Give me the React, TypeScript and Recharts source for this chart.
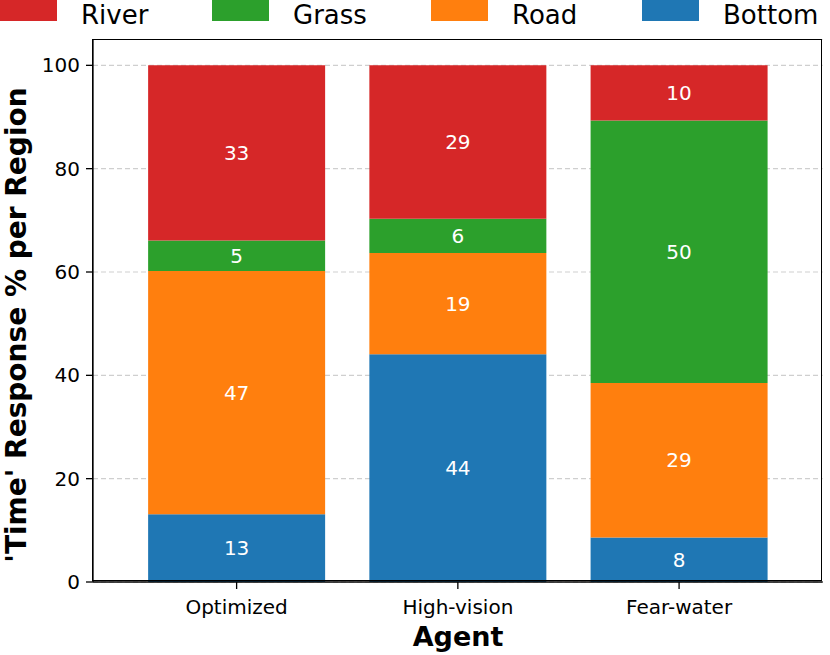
import React from "react";
import {
  BarChart, Bar, XAxis, YAxis, CartesianGrid, LabelList, Label
} from "recharts";

// time share (%) per region
const agents = ["Optimized", "High-vision", "Fear-water"];
const bottomPct = [13.1, 44.1, 8.6];
const roadPct = [47.1, 19.6, 29.9];
const grassPct = [5.9, 6.6, 50.8];
const riverPct = [33.9, 29.7, 10.7];
const yTicks = [0, 20, 40, 60, 80, 100];

const FONT = "DejaVu Sans";

const series = [
  { key: "bottom", name: "Bottom", color: "#1f77b4" },
  { key: "road", name: "Road", color: "#ff7f0e" },
  { key: "grass", name: "Grass", color: "#2ca02c" },
  { key: "river", name: "River", color: "#d62728" },
];
const legendOrder = ["river", "grass", "road", "bottom"];
const legendX = [0, 212, 431, 642];

const rows = agents.map((agent, i) => ({
  agent,
  bottom: bottomPct[i],
  road: roadPct[i],
  grass: grassPct[i],
  river: riverPct[i],
}));

const tickStyle = { fontSize: 20, fill: "#000", fontFamily: FONT };

// plot frame (matplotlib-style box)
const PLOT = { left: 93, top: 39.5, right: 822.7, bottom: 582 };

const TopLegend = () => (
  <svg width={830} height={32} style={{ position: "absolute", left: 0, top: 0 }}>
    {legendOrder.map((k, i) => {
      const s = series.find((x) => x.key === k)!;
      return (
        <g key={k}>
          <rect x={legendX[i]} y={0} width={57} height={21} fill={s.color} />
          <text x={legendX[i] + 81} y={23.5} fontSize={26} fontFamily={FONT} fill="#000">
            {s.name}
          </text>
        </g>
      );
    })}
  </svg>
);

export default function App() {
  return (
    <div style={{ position: "absolute", left: 0, top: 0, width: 830, height: 655, background: "#fff" }}>
      <BarChart
        width={830}
        height={655}
        data={rows}
        margin={{ top: PLOT.top, right: 830 - PLOT.right, bottom: 0, left: 0 }}
        barCategoryGap="10%"
      >
        <CartesianGrid vertical={false} stroke="#cfcfcf" strokeDasharray="5 3" strokeWidth={1.2} />
        <XAxis
          dataKey="agent"
          height={655 - PLOT.bottom}
          padding={{ left: 33, right: 33 }}
          tick={tickStyle}
          tickSize={7}
          tickMargin={11}
          axisLine={{ stroke: "#000", strokeWidth: 1.3 }}
          tickLine={{ stroke: "#000", strokeWidth: 1.3 }}
        >
          <Label
            content={() => (
              <text x={458} y={646} textAnchor="middle" fontSize={27} fontWeight="bold" fontFamily={FONT} fill="#000">
                Agent
              </text>
            )}
          />
        </XAxis>
        <YAxis
          width={PLOT.left}
          domain={[0, 105]}
          ticks={yTicks}
          tick={tickStyle}
          tickSize={7}
          tickMargin={6}
          axisLine={{ stroke: "#000", strokeWidth: 1.3 }}
          tickLine={{ stroke: "#000", strokeWidth: 1.3 }}
        >
          <Label
            content={() => (
              <text
                x={26}
                y={325}
                transform="rotate(-90 26 325)"
                textAnchor="middle"
                fontSize={28}
                fontWeight="bold"
                fontFamily={FONT}
                fill="#000"
              >
                'Time' Response % per Region
              </text>
            )}
          />
        </YAxis>
        {series.map((s) => (
          <Bar key={s.key} dataKey={s.key} name={s.name} stackId="a" fill={s.color} isAnimationActive={false}>
            <LabelList
              dataKey={s.key}
              position="center"
              fill="#fff"
              fontSize={20}
              fontFamily={FONT}
              formatter={(v: any) => Math.floor(Number(v))}
            />
          </Bar>
        ))}
      </BarChart>
      <TopLegend />
      <div
        style={{
          position: "absolute",
          left: PLOT.left - 0.65,
          top: PLOT.top - 0.65,
          width: PLOT.right - PLOT.left,
          height: PLOT.bottom - PLOT.top,
          border: "1.3px solid #000",
          boxSizing: "border-box",
          pointerEvents: "none",
        }}
      />
    </div>
  );
}
